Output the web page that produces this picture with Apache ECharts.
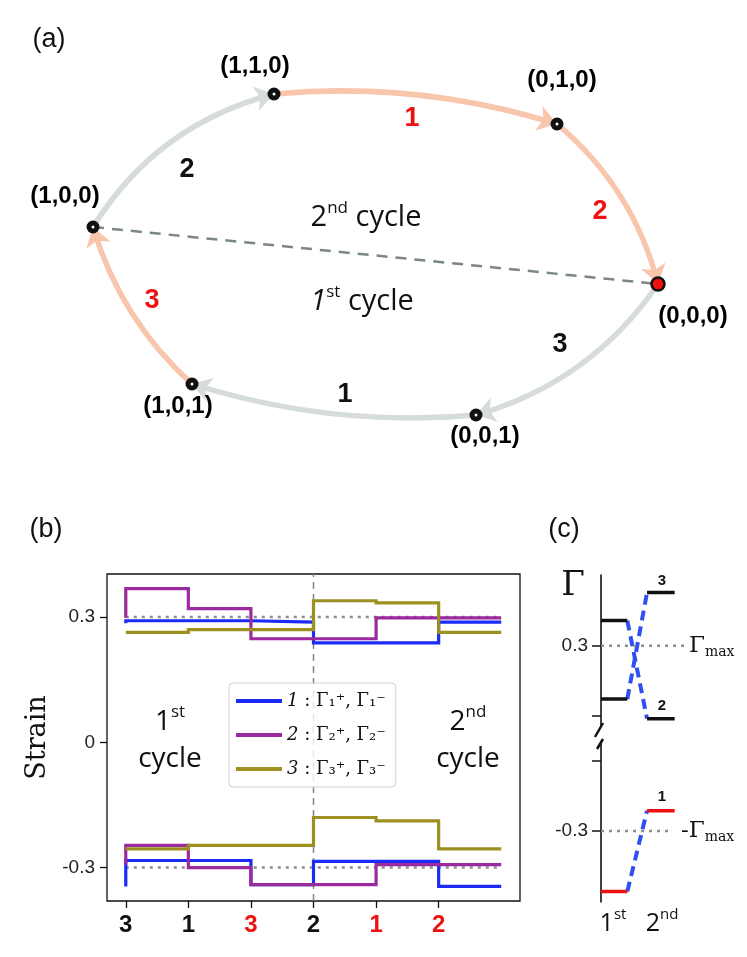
<!DOCTYPE html>
<html><head><meta charset="utf-8">
<script src="https://cdn.jsdelivr.net/npm/echarts@6/dist/echarts.min.js"></script>
<style>html,body{margin:0;padding:0;background:#fff}#c{width:747px;height:957px}</style>
</head><body><div id="c"></div>
<script>
// ---------- Panel (a): state diagram (values in a pixel-like diagram space) ----------
const nodeNames = ['(1,0,0)','(1,1,0)','(0,1,0)','(0,0,0)','(0,0,1)','(1,0,1)'];
const nodeX = [93, 274, 557, 658, 476, 192];
const nodeY = [227, 94, 124, 284, 415, 384];
const edgeFrom = [0, 1, 2, 3, 4, 5];
const edgeTo   = [1, 2, 3, 4, 5, 0];
const edgeLabels = ['2', '1', '2', '3', '1', '3'];
const edgeSecondCycleActive = [false, true, true, false, false, true];

// ---------- Panel (b): strain steps ----------
const stepX = [0, 1, 2, 3, 4, 5, 6];
const xTickLabels = ['3', '1', '3', '2', '1', '2'];
const xTickRed = [false, false, true, false, true, true];
const mode1Upper = [0.285, 0.291, 0.291, 0.288, 0.238, 0.238, 0.288];
const mode2Upper = [0.298, 0.368, 0.320, 0.248, 0.248, 0.298, 0.298];
const mode3Upper = [0.263, 0.263, 0.270, 0.270, 0.339, 0.334, 0.263];
const mode1Lower = [-0.345, -0.283, -0.283, -0.341, -0.285, -0.285, -0.345];
const mode2Lower = [-0.293, -0.247, -0.300, -0.341, -0.341, -0.293, -0.293];
const mode3Lower = [-0.255, -0.255, -0.247, -0.247, -0.180, -0.188, -0.255];
const gammaMax = 0.3;

// ---------- Panel (c): Gamma switching ----------
const cModes = ['3', '2', '1'];
const cFirst = [0.224, 0.336, -0.386];
const cSecond = [0.376, 0.196, -0.271];
const cSlotX = [0, 1, 1.75, 2.8];

const BLUE = '#1b2af5', PURPLE = '#9b2a9e', OLIVE = '#9c9120';
const PEACH = '#f8c6ad', GRAYE = '#d6dcdc', RED = '#ee1111', DASHBLUE = '#2f4ff0';
const SANS = '"Liberation Sans", Arial, sans-serif';
const OPEN = '"Open Sans", "DejaVu Sans", sans-serif';
const SERIF = '"DejaVu Serif", serif';

const chart = echarts.init(document.getElementById('c'), null, {renderer: 'canvas', width: 747, height: 957});

const edgeCurv = [0.2, 0.1, 0.16, 0.18, 0.1, 0.14];
const nodeLabelOffset = [[-28, -31], [-19, -28], [5, -44], [35, 32], [9, 21], [-14, 22]];

function pts(xs, ys) { return xs.map((x, i) => [x, ys[i]]); }

const series = [];
// (a) dashed divider
series.push({type: 'line', xAxisIndex: 0, yAxisIndex: 0, symbol: 'none', silent: true, z: 1,
  data: [[nodeX[0], nodeY[0]], [nodeX[3], nodeY[3]]],
  lineStyle: {color: '#7b8787', width: 2.5, type: [11, 8]}});
// (a) edges
series.push({type: 'lines', coordinateSystem: 'cartesian2d', xAxisIndex: 0, yAxisIndex: 0, z: 2, silent: true,
  symbol: ['none', 'arrow'], symbolSize: [15, 19], symbolOffset: [0, 12],
  data: edgeFrom.map((f, i) => ({
    coords: [[nodeX[f], nodeY[f]], [nodeX[edgeTo[i]], nodeY[edgeTo[i]]]],
    lineStyle: {color: edgeSecondCycleActive[i] ? PEACH : GRAYE, width: 5.5, curveness: edgeCurv[i], opacity: 1}
  }))});
// (a) nodes
series.push({type: 'scatter', xAxisIndex: 0, yAxisIndex: 0, z: 4, silent: true, symbolSize: 13,
  itemStyle: {opacity: 1},
  data: nodeNames.map((n, i) => ({
    value: [nodeX[i], nodeY[i]], name: n,
    itemStyle: i === 3 ? {color: RED, borderColor: '#111', borderWidth: 2.5, opacity: 1} : {color: '#111', opacity: 1},
    label: {show: true, formatter: n, offset: nodeLabelOffset[i], position: 'inside', opacity: 1,
      fontFamily: SANS, fontWeight: 'bold', fontSize: 24, color: '#000', textBorderWidth: 0}
  }))});
series.push({type: 'scatter', xAxisIndex: 0, yAxisIndex: 0, z: 5, silent: true, symbolSize: 3,
  itemStyle: {color: '#fff', opacity: 1}, data: nodeNames.map((n, i) => i === 3 ? null : [nodeX[i], nodeY[i]]).filter(d => d)});

// (b) reference lines
series.push({type: 'line', xAxisIndex: 1, yAxisIndex: 1, symbol: 'none', silent: true, z: 1,
  data: [[stepX[0], gammaMax], [stepX[stepX.length - 1], gammaMax]], lineStyle: {color: '#8a8f8f', width: 2.5, type: [3, 5]}});
series.push({type: 'line', xAxisIndex: 1, yAxisIndex: 1, symbol: 'none', silent: true, z: 1,
  data: [[stepX[0], -gammaMax], [stepX[stepX.length - 1], -gammaMax]], lineStyle: {color: '#8a8f8f', width: 2.5, type: [3, 5]}});
series.push({type: 'line', xAxisIndex: 1, yAxisIndex: 1, symbol: 'none', silent: true, z: 1,
  data: [[3, -0.38], [3, 0.403]], lineStyle: {color: '#7b8787', width: 1.5, type: [7, 5]}});
// (b) step series
[[mode1Upper, 'm1', BLUE], [mode2Upper, 'm2', PURPLE], [mode3Upper, 'm3', OLIVE],
 [mode1Lower, 'm1', BLUE], [mode2Lower, 'm2', PURPLE], [mode3Lower, 'm3', OLIVE]].forEach(([ys, nm, col]) => {
  series.push({type: 'line', name: nm, xAxisIndex: 1, yAxisIndex: 1, step: 'start', symbol: 'none', showSymbol: false,
    silent: true, z: 2, color: col, data: pts(stepX, ys), lineStyle: {color: col, width: 3.2, cap: 'butt', join: 'miter'}});
});

// (c) reference dotted lines
series.push({type: 'line', xAxisIndex: 2, yAxisIndex: 2, symbol: 'none', silent: true,
  data: [[0, gammaMax], [3.25, gammaMax]], lineStyle: {color: '#8a8f8f', width: 2.5, type: [3, 5]}});
series.push({type: 'line', xAxisIndex: 3, yAxisIndex: 3, symbol: 'none', silent: true,
  data: [[0, -gammaMax], [2.72, -gammaMax]], lineStyle: {color: '#8a8f8f', width: 2.5, type: [3, 5]}});
// (c) levels and switching
cModes.forEach((m, i) => {
  const ax = cFirst[i] > 0 ? 2 : 3;
  const col = cFirst[i] > 0 ? '#111' : RED;
  series.push({type: 'line', xAxisIndex: ax, yAxisIndex: ax, symbol: 'none', silent: true, z: 3,
    data: [[cSlotX[0], cFirst[i]], [cSlotX[1], cFirst[i]]], lineStyle: {color: col, width: 3.5, cap: 'butt'}});
  series.push({type: 'line', xAxisIndex: ax, yAxisIndex: ax, symbol: 'none', silent: true, z: 3,
    data: [[cSlotX[2], cSecond[i]], [cSlotX[3], cSecond[i]]], lineStyle: {color: col, width: 3.5, cap: 'butt'}});
  series.push({type: 'line', xAxisIndex: ax, yAxisIndex: ax, symbol: 'none', silent: true, z: 2,
    data: [[cSlotX[1], cFirst[i]], [cSlotX[2], cSecond[i]]], lineStyle: {color: DASHBLUE, width: 4, type: [10, 6]}});
});

function T(x, y, text, font, fill, rich, align) {
  const st = {text, x: 0, y: 0, font, fill, align: align || 'center', verticalAlign: 'middle'};
  if (rich) st.rich = rich;
  return {type: 'text', x, y, style: st, silent: true, z: 10};
}
const supRich = (fam, big, small, italic) => ({
  a: {fontFamily: fam, fontSize: big, fontStyle: italic ? 'italic' : 'normal', lineHeight: big * 1.15, verticalAlign: 'bottom', fill: '#111'},
  s: {fontFamily: fam, fontSize: small, verticalAlign: 'top', lineHeight: big * 1.15, fill: '#111'},
  b: {fontFamily: fam, fontSize: big, lineHeight: big * 1.15, verticalAlign: 'bottom', fill: '#111'}
});
const gmRich = {
  g: {fontFamily: SERIF, fontSize: 23, fill: '#111', lineHeight: 30, verticalAlign: 'middle'},
  m: {fontFamily: SERIF, fontSize: 14, fill: '#111', lineHeight: 30, verticalAlign: 'bottom', padding: [0, 0, 2, 0]}
};

const edgeLabelPos = [[187, 170], [412, 119], [600, 212], [560, 345], [345, 395], [152, 301]];
const graphics = [
  T(49, 40, '(a)', '27px ' + SANS, '#111'),
  T(46, 530, '(b)', '27px ' + SANS, '#111'),
  T(564, 530, '(c)', '27px ' + SANS, '#111'),
  T(366, 216, '{a|2}{s|nd}{b| cycle}', '', '#111', supRich(OPEN, 29, 17, false)),
  T(362, 300, '{a|1}{s|st}{b| cycle}', '', '#111', supRich(OPEN, 29, 17, true)),
  T(170, 720, '{a|1}{s|st}', '', '#111', supRich(OPEN, 28, 17, false)),
  T(170, 759, 'cycle', '28px ' + OPEN, '#111'),
  T(468, 720, '{a|2}{s|nd}', '', '#111', supRich(OPEN, 28, 17, false)),
  T(468, 759, 'cycle', '28px ' + OPEN, '#111'),
  T(573, 586, 'Γ', '34px ' + SERIF, '#111'),
  T(689, 646, '{g|Γ}{m|max}', '', '#111', gmRich, 'left'),
  T(681, 831, '{g|-Γ}{m|max}', '', '#111', gmRich, 'left'),
  T(662, 581, '3', 'bold 15px ' + SANS, '#111'),
  T(662, 706, '2', 'bold 15px ' + SANS, '#111'),
  T(662, 797, '1', 'bold 15px ' + SANS, '#111'),
  T(613, 922, '{a|1}{s|st}', '', '#111', supRich(OPEN, 25, 15, false)),
  T(662, 922, '{a|2}{s|nd}', '', '#111', supRich(OPEN, 25, 15, false)),
  {type: 'line', shape: {x1: 595, y1: 737, x2: 603, y2: 723}, style: {stroke: '#111', lineWidth: 2.5}, silent: true},
  {type: 'line', shape: {x1: 597, y1: 749, x2: 603, y2: 739}, style: {stroke: '#111', lineWidth: 2.5}, silent: true}
];
edgeLabels.forEach((l, i) => {
  graphics.push(T(edgeLabelPos[i][0], edgeLabelPos[i][1], l, 'bold 27px ' + SANS, edgeSecondCycleActive[i] ? RED : '#111'));
});

const option = {
  animation: false,
  backgroundColor: '#fff',
  grid: [
    {left: 0, top: 0, width: 747, height: 480},
    {left: 107, top: 574, width: 413, height: 327, show: true, borderColor: '#111', borderWidth: 1.3, backgroundColor: 'rgba(0,0,0,0)'},
    {left: 601, top: 575, width: 85.5, height: 150},
    {left: 601, top: 744, width: 85.5, height: 158}
  ],
  xAxis: [
    {gridIndex: 0, type: 'value', min: 0, max: 747, show: false},
    {gridIndex: 1, type: 'value', min: -0.3, max: 6.3, position: 'bottom',
      axisLine: {show: false, onZero: false}, splitLine: {show: false},
      axisTick: {show: true, customValues: [0, 1, 2, 3, 4, 5], length: 7, lineStyle: {color: '#111', width: 1.3}},
      axisLabel: {customValues: [0, 1, 2, 3, 4, 5], margin: 12,
        formatter: v => { const i = Math.round(v); return '{' + (xTickRed[i] ? 'r' : 'k') + '|' + xTickLabels[i] + '}'; },
        rich: {k: {color: '#111', fontFamily: SANS, fontWeight: 'bold', fontSize: 24},
               r: {color: RED, fontFamily: SANS, fontWeight: 'bold', fontSize: 24}}}},
    {gridIndex: 2, type: 'value', min: 0, max: 3.25, show: false},
    {gridIndex: 3, type: 'value', min: 0, max: 3.25, show: false}
  ],
  yAxis: [
    {gridIndex: 0, type: 'value', min: 0, max: 480, inverse: true, show: false},
    {gridIndex: 1, type: 'value', min: -0.38, max: 0.403, position: 'left',
      name: 'Strain', nameLocation: 'middle', nameGap: 42, nameRotate: 90,
      nameTextStyle: {fontFamily: SERIF, fontSize: 27, color: '#111'},
      axisLine: {show: false, onZero: false}, splitLine: {show: false},
      axisTick: {show: true, customValues: [-0.3, 0, 0.3], length: 7, lineStyle: {color: '#111', width: 1.3}},
      axisLabel: {customValues: [-0.3, 0, 0.3], margin: 12, fontFamily: SANS, fontSize: 19, color: '#222',
        formatter: v => Math.abs(v) < 1e-9 ? '0' : v.toFixed(1)}},
    {gridIndex: 2, type: 'value', min: 0.187, max: 0.401, position: 'left',
      axisLine: {show: true, onZero: false, lineStyle: {color: '#111', width: 1.6}}, splitLine: {show: false},
      axisTick: {show: true, customValues: [0.2, 0.3], length: 9, lineStyle: {color: '#111', width: 1.5}},
      axisLabel: {customValues: [0.3], margin: 13, fontFamily: SANS, fontSize: 19, color: '#222', formatter: v => v.toFixed(1)}},
    {gridIndex: 3, type: 'value', min: -0.401, max: -0.176, position: 'left',
      axisLine: {show: true, onZero: false, lineStyle: {color: '#111', width: 1.6}}, splitLine: {show: false},
      axisTick: {show: true, customValues: [-0.3, -0.2], length: 9, lineStyle: {color: '#111', width: 1.5}},
      axisLabel: {customValues: [-0.3], margin: 13, fontFamily: SANS, fontSize: 19, color: '#222', formatter: v => v.toFixed(1)}}
  ],
  legend: {
    data: ['m1', 'm2', 'm3'], orient: 'vertical', left: 229, top: 683, selectedMode: false,
    icon: 'rect', itemWidth: 46, itemHeight: 4, itemGap: 14, padding: [8, 10, 8, 7],
    backgroundColor: 'rgba(255,255,255,0.8)', borderColor: '#cfcfcf', borderWidth: 1, borderRadius: 4,
    formatter: n => { const k = n.slice(1); const sub = '₀₁₂₃'[+k];
      return '{i|' + k + '}{n| : Γ' + sub + '⁺, Γ' + sub + '⁻}'; },
    textStyle: {color: '#111', lineHeight: 20,
      rich: {i: {fontFamily: SERIF, fontStyle: 'italic', fontSize: 18, color: '#111'},
             n: {fontFamily: SERIF, fontSize: 18, color: '#111'}}}
  },
  series,
  graphic: graphics
};
chart.setOption(option);
</script></body></html>
